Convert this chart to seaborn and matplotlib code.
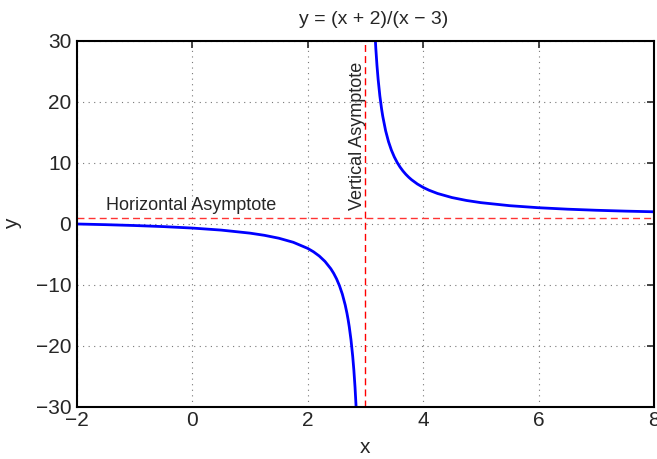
import matplotlib
matplotlib.use("Agg")
import matplotlib.pyplot as plt
import seaborn as sns
import pandas as pd

x_izq = [-2, -1.5, -1, -0.5, 0, 0.5, 1, 1.25, 1.5, 1.75, 2, 2.1, 2.2, 2.3, 2.4, 2.45,
         2.5, 2.55, 2.6, 2.65, 2.68, 2.7, 2.72, 2.75, 2.78, 2.8, 2.82, 2.84]
y_izq = [0, -0.111, -0.25, -0.429, -0.667, -1, -1.5, -1.857, -2.333, -3, -4, -4.556,
         -5.25, -6.143, -7.333, -8.09, -9, -10.11, -11.5, -13.29, -14.63, -15.67, -16.86,
         -19, -21.73, -24, -26.78, -30.25]
x_der = [3.16, 3.18, 3.2, 3.22, 3.25, 3.28, 3.3, 3.35, 3.4, 3.45, 3.5, 3.55, 3.6, 3.65,
         3.7, 3.75, 3.8, 3.9, 4, 4.1, 4.25, 4.5, 4.75, 5, 5.5, 6, 6.5, 7, 7.5, 8]
y_der = [32.25, 28.78, 26, 23.73, 21, 18.86, 17.67, 15.29, 13.5, 12.11, 11, 10.09, 9.333,
         8.692, 8.143, 7.667, 7.25, 6.556, 6, 5.545, 5, 4.333, 3.857, 3.5, 3, 2.667,
         2.429, 2.25, 2.111, 2]

asintota_h = 1
asintota_v = 3
x_ticks = [-2, 0, 2, 4, 6, 8]
y_ticks = [-30, -20, -10, 0, 10, 20, 30]

sns.set_style("white")
plt.rcParams['font.family'] = ['Liberation Sans', 'DejaVu Sans']
plt.rcParams['axes.unicode_minus'] = True

fig = plt.figure(figsize=(6.57, 4.59), dpi=100)
ax = fig.add_axes([0.117, 0.1133, 0.8784, 0.7974])

izq = pd.DataFrame({"x": x_izq, "y": y_izq})
der = pd.DataFrame({"x": x_der, "y": y_der})
sns.lineplot(data=izq, x="x", y="y", ax=ax, color="blue", linewidth=2.0, sort=False)
sns.lineplot(data=der, x="x", y="y", ax=ax, color="blue", linewidth=2.0, sort=False)

ax.axhline(asintota_h, color="#ff3333", linestyle=(0, (5, 3)), linewidth=1.0)
ax.axvline(asintota_v, color="red", linestyle=(0, (5, 3)), linewidth=1.0)

ax.text(-1.5, 3.0, "Horizontal Asymptote", fontsize=13, va="center", ha="left")
ax.text(2.86, 2.3, "Vertical Asymptote", fontsize=13, rotation=90, ha="center", va="bottom")

ax.set_xlim(-2, 8)
ax.set_ylim(-30, 30)
ax.set_xticks(x_ticks)
ax.set_yticks(y_ticks)
ax.set_xticklabels([str(t).replace("-", "\u2212") for t in x_ticks])
ax.set_yticklabels([str(t).replace("-", "\u2212") for t in y_ticks])
ax.tick_params(direction="in", length=5, width=1.2, top=True, right=True, labelsize=15, pad=4)
ax.tick_params(axis="x", pad=3)
ax.grid(True, linestyle=(0, (1, 4)), color="#777777", linewidth=0.8)

for s in ax.spines.values():
    s.set_linewidth(1.5)
    s.set_color("black")

ax.set_xlabel("x", fontsize=15, labelpad=6)
ax.set_ylabel("y", fontsize=15, labelpad=10)
ax.set_title("y = (x + 2)/(x \u2212 3)", fontsize=14, pad=12, x=0.515)

fig.savefig("out.png", dpi=100)
